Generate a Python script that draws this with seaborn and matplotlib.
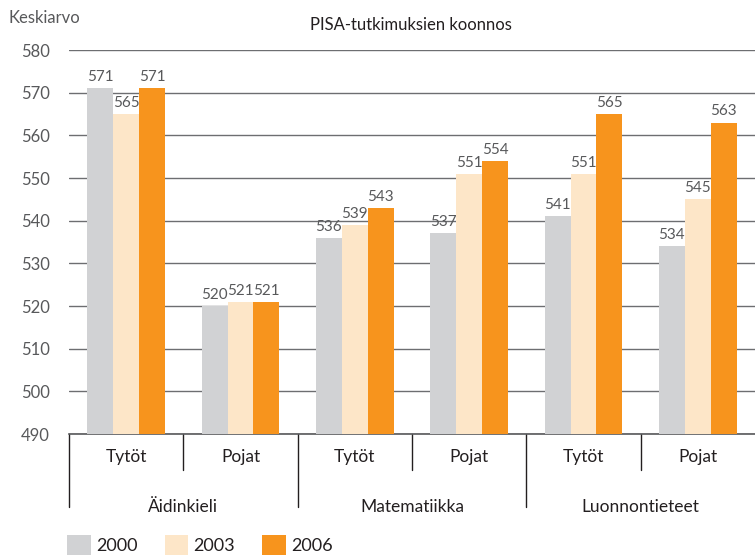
import numpy as np
import pandas as pd
import seaborn as sns
import matplotlib.pyplot as plt
from matplotlib.patches import Patch
from matplotlib.transforms import blended_transform_factory

# data
subjects = ['Äidinkieli', 'Matematiikka', 'Luonnontieteet']
genders = ['Tytöt', 'Pojat']
years = ['2000', '2003', '2006']
v2000 = [571, 520, 536, 537, 541, 534]
v2003 = [565, 521, 539, 551, 551, 545]
v2006 = [571, 521, 543, 554, 565, 563]
colors = ['#d1d2d4', '#fde6c8', '#f7941d']

groups = [s + ' ' + g for s in subjects for g in genders]
rows = []
for yr, vals in zip(years, [v2000, v2003, v2006]):
    for grp, v in zip(groups, vals):
        rows.append({'group': grp, 'year': yr, 'value': v})
df = pd.DataFrame(rows)

sns.set_style('white')
plt.rcParams['font.family'] = ['Lato', 'DejaVu Sans']

fig = plt.figure(figsize=(7.55, 5.57), dpi=100)
ax = fig.add_axes([69 / 755, 1 - 434 / 557, 1 - 69 / 755, (434 - 50) / 557])

sns.barplot(data=df, x='group', y='value', hue='year', order=groups,
            hue_order=years, palette=colors, width=0.68, saturation=1,
            linewidth=0, edgecolor='none', ax=ax, legend=False, zorder=3)

ax.set_ylim(490, 580)
ax.set_xlim(-0.5, 5.5)
ax.set_yticks(np.arange(490, 581, 10))
ax.yaxis.grid(True, color='#6d6e71', lw=1)
ax.set_axisbelow(True)
for sp in ['top', 'right', 'left']:
    ax.spines[sp].set_visible(False)
ax.spines['bottom'].set_color('#58595b')
ax.spines['bottom'].set_linewidth(1.2)
ax.tick_params(axis='y', length=0, pad=14, labelsize=12, labelcolor='#58595b')
ax.set_xticks([])
ax.set_xlabel('')
ax.set_ylabel('')

for cont in ax.containers:
    ax.bar_label(cont, fmt='%d', padding=3, fontsize=11, color='#58595b')

# hierarchical x axis
tr = blended_transform_factory(ax.transData, ax.transAxes)
line_kw = dict(color='#231f20', lw=1, transform=tr, clip_on=False)
for i in range(6):
    x0 = i - 0.5
    depth = -0.19 if i % 2 == 0 else -0.095
    ax.plot([x0, x0], [0, depth], **line_kw)
    ax.text(i, -0.06, genders[i % 2], transform=tr, ha='center', va='center',
            fontsize=12.5, color='#231f20')
for j, s in enumerate(subjects):
    ax.text(2 * j + 0.5, -0.19, s, transform=tr, ha='center', va='center',
            fontsize=12.5, color='#231f20')

fig.text(8 / 755, 1 - 18 / 557, 'Keskiarvo', ha='left', va='center',
         fontsize=12, color='#58595b')
fig.text(411 / 755, 1 - 25 / 557, 'PISA-tutkimuksien koonnos', ha='center',
         va='center', fontsize=12, color='#231f20')

handles = [Patch(facecolor=c, edgecolor='none') for c in colors]
fig.legend(handles, years, loc='center left', bbox_to_anchor=(51 / 755, 1 - 545 / 557),
           ncol=3, frameon=False, handlelength=1.3, handleheight=1.3,
           handletextpad=0.3, columnspacing=1.5, fontsize=13,
           labelcolor='#231f20')

fig.savefig('out.png', dpi=100)
